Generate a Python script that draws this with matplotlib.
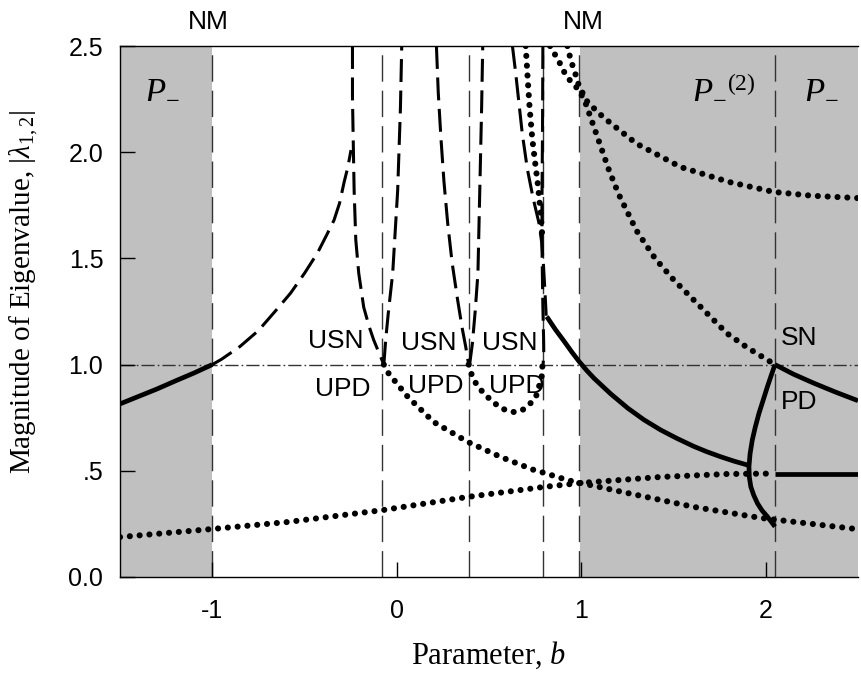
import numpy as np
import matplotlib
matplotlib.use("Agg")
import matplotlib.pyplot as plt

plt.rcParams['font.family'] = ['Liberation Sans', 'DejaVu Sans']
plt.rcParams['mathtext.fontset'] = 'custom'
plt.rcParams['mathtext.rm'] = 'Liberation Serif'
plt.rcParams['mathtext.it'] = 'Liberation Serif:italic'

# ---- data ----
# solid branch, left shaded region
solid_left_b = [-1.5, -1.4, -1.3, -1.2, -1.1, -1.0]
solid_left_y = [0.815, 0.85, 0.885, 0.923, 0.96, 1.0]

# dashed branches
dashA_b = [-1.0, -0.95, -0.85, -0.75, -0.65, -0.575, -0.5, -0.43, -0.38, -0.34, -0.31, -0.285, -0.265, -0.248]
dashA_y = [1.0, 1.025, 1.085, 1.16, 1.26, 1.337, 1.43, 1.525, 1.61, 1.68, 1.76, 1.86, 1.93, 2.01]
dashB_b = [-0.240, -0.240, -0.236, -0.231, -0.222, -0.206, -0.179, -0.15, -0.125, -0.07]
dashB_y = [2.5, 2.26, 2.06, 1.82, 1.587, 1.43, 1.27, 1.18, 1.116, 1.0]
dashC_b = [-0.07, -0.06, -0.045, -0.022, 0.005, 0.02, 0.027]
dashC_y = [1.0, 1.116, 1.25, 1.43, 1.82, 2.21, 2.5]
dashD_b = [0.215, 0.225, 0.24, 0.256, 0.276, 0.30, 0.33, 0.355, 0.374, 0.39]
dashD_y = [2.5, 2.28, 2.06, 1.86, 1.667, 1.48, 1.304, 1.17, 1.083, 1.0]
dashE_b = [0.395, 0.41, 0.425, 0.44, 0.45, 0.46, 0.466]
dashE_y = [1.0, 1.1, 1.25, 1.43, 1.82, 2.21, 2.5]
dashF_b = [0.627, 0.645, 0.66, 0.68, 0.708, 0.74, 0.77, 0.785, 0.795, 0.803, 0.81]
dashF_y = [2.5, 2.37, 2.25, 2.09, 1.92, 1.78, 1.67, 1.58, 1.47, 1.35, 1.23]
dashG_b = [0.792, 0.790, 0.787, 0.788, 0.792, 0.796, 0.797, 0.793]
dashG_y = [2.5, 2.1, 1.75, 1.5, 1.27, 1.12, 1.05, 1.0]

# dotted branches
dotH_b = [0.699, 0.708, 0.72, 0.735, 0.753, 0.766, 0.78, 0.79]
dotH_y = [2.5, 2.37, 2.21, 2.06, 1.93, 1.84, 1.71, 1.59]
dotU_b = [0.39, 0.40, 0.43, 0.47, 0.52, 0.564, 0.60, 0.634, 0.68, 0.726, 0.755, 0.77, 0.785, 0.79]
dotU_y = [1.0, 0.965, 0.91, 0.866, 0.825, 0.796, 0.783, 0.777, 0.785, 0.819, 0.85, 0.894, 0.94, 1.0]
dotDesc_b = [-0.07, -0.05, 0.06, 0.2, 0.385, 0.564, 0.743, 0.8, 0.93, 1.0, 1.252, 1.61, 1.973, 2.2, 2.5]
dotDesc_y = [1.0, 0.965, 0.848, 0.73, 0.636, 0.565, 0.504, 0.49, 0.455, 0.442, 0.395, 0.33, 0.278, 0.255, 0.225]
dotAsc_b = [-1.5, -1.0, -0.59, -0.076, 0.385, 0.797, 1.0, 1.43, 1.79, 2.05]
dotAsc_y = [0.188, 0.226, 0.259, 0.315, 0.377, 0.424, 0.443, 0.471, 0.485, 0.487]
dotUpper_b = [0.925, 0.943, 0.961, 0.976, 0.988, 1.033, 1.096, 1.16, 1.3, 1.539, 1.8, 2.043, 2.25, 2.5]
dotUpper_y = [2.5, 2.434, 2.387, 2.348, 2.31, 2.238, 2.183, 2.136, 2.04, 1.93, 1.86, 1.813, 1.795, 1.784]
dotSteep_b = [0.831, 0.88, 0.916, 0.952, 0.988, 1.024, 1.087, 1.15, 1.204, 1.3, 1.4, 1.5, 1.61, 1.79, 1.9, 2.05]
dotSteep_y = [2.5, 2.426, 2.363, 2.324, 2.293, 2.23, 2.073, 1.916, 1.80, 1.63, 1.50, 1.40, 1.304, 1.147, 1.08, 1.0]

# solid branches, right shaded region
solidMid_b = [0.813, 0.86, 0.907, 0.95, 0.988, 1.03, 1.07, 1.16, 1.252, 1.34, 1.431, 1.52, 1.61, 1.68, 1.756, 1.83, 1.91]
solidMid_y = [1.226, 1.165, 1.11, 1.058, 1.015, 0.972, 0.935, 0.862, 0.795, 0.74, 0.692, 0.652, 0.615, 0.59, 0.566, 0.545, 0.525]
solidPD_b = [2.05, 2.03, 2.009, 1.985, 1.963, 1.943, 1.927, 1.915, 1.909, 1.911, 1.919, 1.935, 1.955, 1.98, 2.009, 2.05]
solidPD_y = [1.0, 0.95, 0.896, 0.83, 0.77, 0.705, 0.645, 0.58, 0.519, 0.47, 0.425, 0.385, 0.347, 0.313, 0.284, 0.237]
solidSN_b = [2.05, 2.15, 2.262, 2.38, 2.5]
solidSN_y = [1.0, 0.955, 0.912, 0.87, 0.83]
solidFlat_b = [2.05, 2.5]
solidFlat_y = [0.485, 0.485]

# boundaries
boundary_b = [-1.0, -0.08, 0.39, 0.795, 0.99, 2.05]
shade_spans = [(-1.5, -1.0), (0.995, 2.5)]

# ---- figure ----
fig = plt.figure(figsize=(8.62, 6.78), dpi=100)
ax = fig.add_axes([120/862, 1-577/678, 738/862, 531/678])

for lo, hi in shade_spans:
    ax.axvspan(lo, hi, color='#c0c0c0', lw=0, zorder=0)
for xb in boundary_b:
    ax.axvline(xb, color='#333333', lw=1.0, linestyle=(0, (19, 6.5)), zorder=1)
ax.axhline(1.0, color='#333333', lw=1.0, linestyle=(0, (9.5, 2.2, 1.2, 2.2)), zorder=1)

solid_kw = dict(color='k', lw=3.4, solid_capstyle='butt', solid_joinstyle='round', zorder=3)
dash_kw = dict(color='k', lw=2.2, linestyle=(0, (7.5, 2.8)), dash_capstyle='butt', zorder=3)
dot_kw = dict(color='k', lw=4.4, linestyle=(0, (0.01, 1.6)), dash_capstyle='round', zorder=3)

ax.plot(solid_left_b, solid_left_y, **solid_kw)
ax.plot(solidMid_b, solidMid_y, **solid_kw)
ax.plot(solidPD_b, solidPD_y, **solid_kw)
ax.plot(solidSN_b, solidSN_y, **solid_kw)
ax.plot(solidFlat_b, solidFlat_y, **solid_kw)

for bb, yy in [(dashA_b, dashA_y), (dashB_b, dashB_y), (dashC_b, dashC_y),
               (dashD_b, dashD_y), (dashE_b, dashE_y), (dashF_b, dashF_y),
               (dashG_b, dashG_y)]:
    ax.plot(bb, yy, **dash_kw)

for bb, yy in [(dotH_b, dotH_y), (dotU_b, dotU_y), (dotDesc_b, dotDesc_y),
               (dotAsc_b, dotAsc_y), (dotUpper_b, dotUpper_y), (dotSteep_b, dotSteep_y)]:
    ax.plot(bb, yy, **dot_kw)

ax.set_xlim(-1.5, 2.5)
ax.set_ylim(0, 2.5)
ax.set_xticks([-1, 0, 1, 2])
ax.set_xticklabels(['-1', '0', '1', '2'])
ax.set_yticks([0, 0.5, 1.0, 1.5, 2.0, 2.5])
ax.set_yticklabels(['0.0', '.5', '1.0', '1.5', '2.0', '2.5'])
ax.tick_params(direction='in', length=11, width=1, labelsize=18, pad=12)
ax.tick_params(axis='x', pad=16)
ax.spines['right'].set_visible(False)
for s in ['left', 'bottom', 'top']:
    ax.spines[s].set_linewidth(1.0)

ax.set_xlabel('Parameter, $b$', family='Liberation Serif', fontsize=22, labelpad=12)
ax.set_ylabel(r'Magnitude of Eigenvalue, $|\lambda_{1,2}|$', family='Liberation Serif',
              fontsize=21)
ax.yaxis.set_label_coords(-0.109, 0.537)

lab = dict(fontsize=19, ha='center', va='center', zorder=4)
ax.text(-1.02, 2.613, 'NM', clip_on=False, **lab)
ax.text(1.01, 2.613, 'NM', clip_on=False, **lab)
for xb, txt, yy in [(-0.33, 'USN', 1.11), (0.173, 'USN', 1.10), (0.613, 'USN', 1.10),
                    (-0.29, 'UPD', 0.885), (0.21, 'UPD', 0.90), (0.65, 'UPD', 0.90),
                    (2.18, 'SN', 1.125), (2.18, 'PD', 0.824)]:
    ax.text(xb, yy, txt, **lab)

plab = dict(fontsize=25, ha='center', va='center', zorder=4)
ax.text(-1.27, 2.30, r'$P_{-}$', **plab)
p2 = ax.text(1.595, 2.30, r'$P_{-}$', fontsize=25, ha='left', va='center', zorder=4)
ax.annotate(r'$\mathrm{(2)}$', xy=(1.0, 1.0), xycoords=p2, xytext=(0, 1),
            textcoords='offset points', fontsize=17, ha='left', va='top', zorder=4)
ax.text(2.30, 2.30, r'$P_{-}$', **plab)

fig.savefig('out.png', dpi=100)
